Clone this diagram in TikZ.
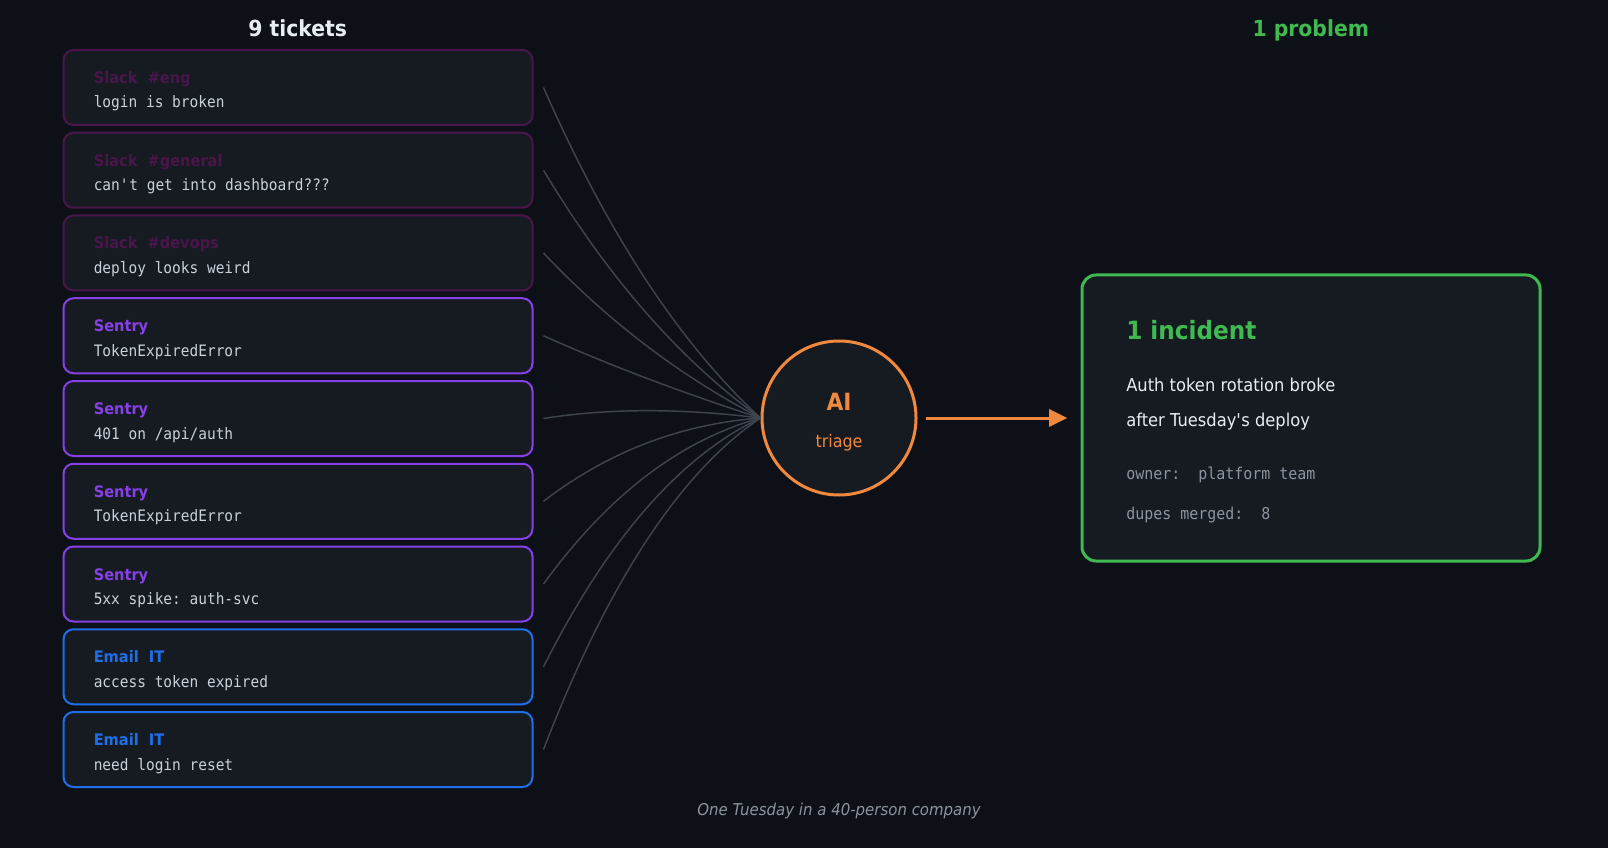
\documentclass[tikz,border=0pt]{standalone}
\usepackage{fontspec}
\setmainfont{DejaVu Sans}[FakeStretch=0.92]
\setmonofont{DejaVu Sans Mono}[FakeStretch=0.92]
\usetikzlibrary{arrows.meta,calc,positioning}

\definecolor{canvas}{HTML}{0D1117}
\definecolor{card}{HTML}{161B22}
\definecolor{slack}{HTML}{4A154B}
\definecolor{sentry}{HTML}{8640E6}
\definecolor{email}{HTML}{1F6FEB}
\definecolor{ink}{HTML}{E6EDF3}
\definecolor{codeink}{HTML}{C9D1D9}
\definecolor{muted}{HTML}{8B949E}
\definecolor{wire}{HTML}{3D444D}
\definecolor{triage}{HTML}{F0883E}
\definecolor{resolved}{HTML}{3FB950}

\begin{document}
\begin{tikzpicture}[x=0.75pt, y=-0.75pt]
        \tikzset{
            ticket/.style={
                draw=#1, fill=card, line width=1.5pt, rounded corners=7.5pt,
                minimum width=351.75pt, minimum height=56.25pt, inner sep=0pt
            },
            source/.style={anchor=base west, inner sep=0pt, text=#1,
                font=\fontsize{11.9}{14}\selectfont\bfseries},
            message/.style={anchor=base west, inner sep=0pt, text=codeink,
                font=\ttfamily\fontsize{11.8}{14}\selectfont},
            heading/.style={anchor=base, inner sep=0pt,
                font=\fontsize{16.6}{20}\selectfont\bfseries},
            fan/.style={draw=wire, line width=1.1pt},
            hub/.style={circle, draw=triage, fill=card, line width=2.25pt,
                minimum size=115.5pt, inner sep=0pt},
            flow/.style={-{Triangle[length=13.5pt, width=12.75pt]}, draw=triage, line width=2.25pt},
            incident/.style={
                draw=resolved, fill=card, line width=2.25pt, rounded corners=10.5pt,
                minimum width=343.5pt, minimum height=214.5pt, inner sep=0pt
            },
            detail/.style={anchor=base west, inner sep=0pt}
        }

        \useasboundingbox (0,0) rectangle (1608,848);
        \fill[canvas] (0,0) rectangle (1608,848);

        \node[heading, text=ink] (intake) at (297.7,37) {9 tickets};
        \node[heading, text=resolved] (outcome) at (1310.8,37) {1 problem};

        \foreach \i/\src/\col/\msg in {
            1/Slack\ \ \#eng/slack/login is broken,
            2/Slack\ \ \#general/slack/can\textquotesingle t get into dashboard???,
            3/Slack\ \ \#devops/slack/deploy looks weird,
            4/Sentry/sentry/TokenExpiredError,
            5/Sentry/sentry/{401 on /api/auth},
            6/Sentry/sentry/TokenExpiredError,
            7/Sentry/sentry/5xx spike: auth-svc,
            8/Email\ \ IT/email/access token expired,
            9/Email\ \ IT/email/need login reset} {
            \node[ticket=\col] (t\i) at (298, {87.5+82.75*(\i-1)}) {};
            \node[source=\col] (s\i) at ([shift={(31,34.5)}]t\i.north west) {\src};
            \node[message] (m\i) at ([shift={(31,59)}]t\i.north west) {\msg};
        }

        \node[hub] (ai) at (839,418) {};
        \node[anchor=base, inner sep=0pt, text=triage, font=\fontsize{17.8}{21}\selectfont\bfseries]
            (aiword) at (839,410.5) {AI};
        \node[anchor=base, inner sep=0pt, text=triage, font=\fontsize{13}{15}\selectfont]
            (triageword) at (839,447.5) {triage};

        \foreach \i in {1,...,9} {
            \coordinate (w\i) at ([xshift=7.5pt]t\i.east);
            \coordinate (q\i) at (640, {418+0.29*(87.5+82.75*(\i-1)-418)-15});
            \draw[fan] (w\i) .. controls ($(w\i)!2/3!(q\i)$) and ($(ai.west)!2/3!(q\i)$) .. (ai.west);
        }

        \node[incident] (inc) at (1311,418) {};
        \draw[flow] ([xshift=6pt]ai.east) -- ([xshift=-10pt]inc.west);

        \node[detail, text=resolved, font=\fontsize{18.9}{23}\selectfont\bfseries]
            (inctitle) at ([shift={(45.5,66)}]inc.north west) {1 incident};
        \node[detail, text=ink, font=\fontsize{13.3}{16}\selectfont]
            (cause1) at ([shift={(45.5,118)}]inc.north west) {Auth token rotation broke};
        \node[detail, text=ink, font=\fontsize{13.3}{16}\selectfont]
            (cause2) at ([shift={(45.5,153)}]inc.north west) {after Tuesday\textquotesingle s deploy};
        \node[detail, text=muted, font=\ttfamily\fontsize{12.2}{15}\selectfont]
            (owner) at ([shift={(45.5,206)}]inc.north west) {owner:\ \ platform team};
        \node[detail, text=muted, font=\ttfamily\fontsize{12.2}{15}\selectfont]
            (dupes) at ([shift={(45.5,246)}]inc.north west) {dupes merged:\ \ 8};

        \node[anchor=base, inner sep=0pt, text=muted, font=\itshape\fontsize{12.2}{15}\selectfont]
            (note) at (839,815) {One Tuesday in a 40-person company};
\end{tikzpicture}
\end{document}
